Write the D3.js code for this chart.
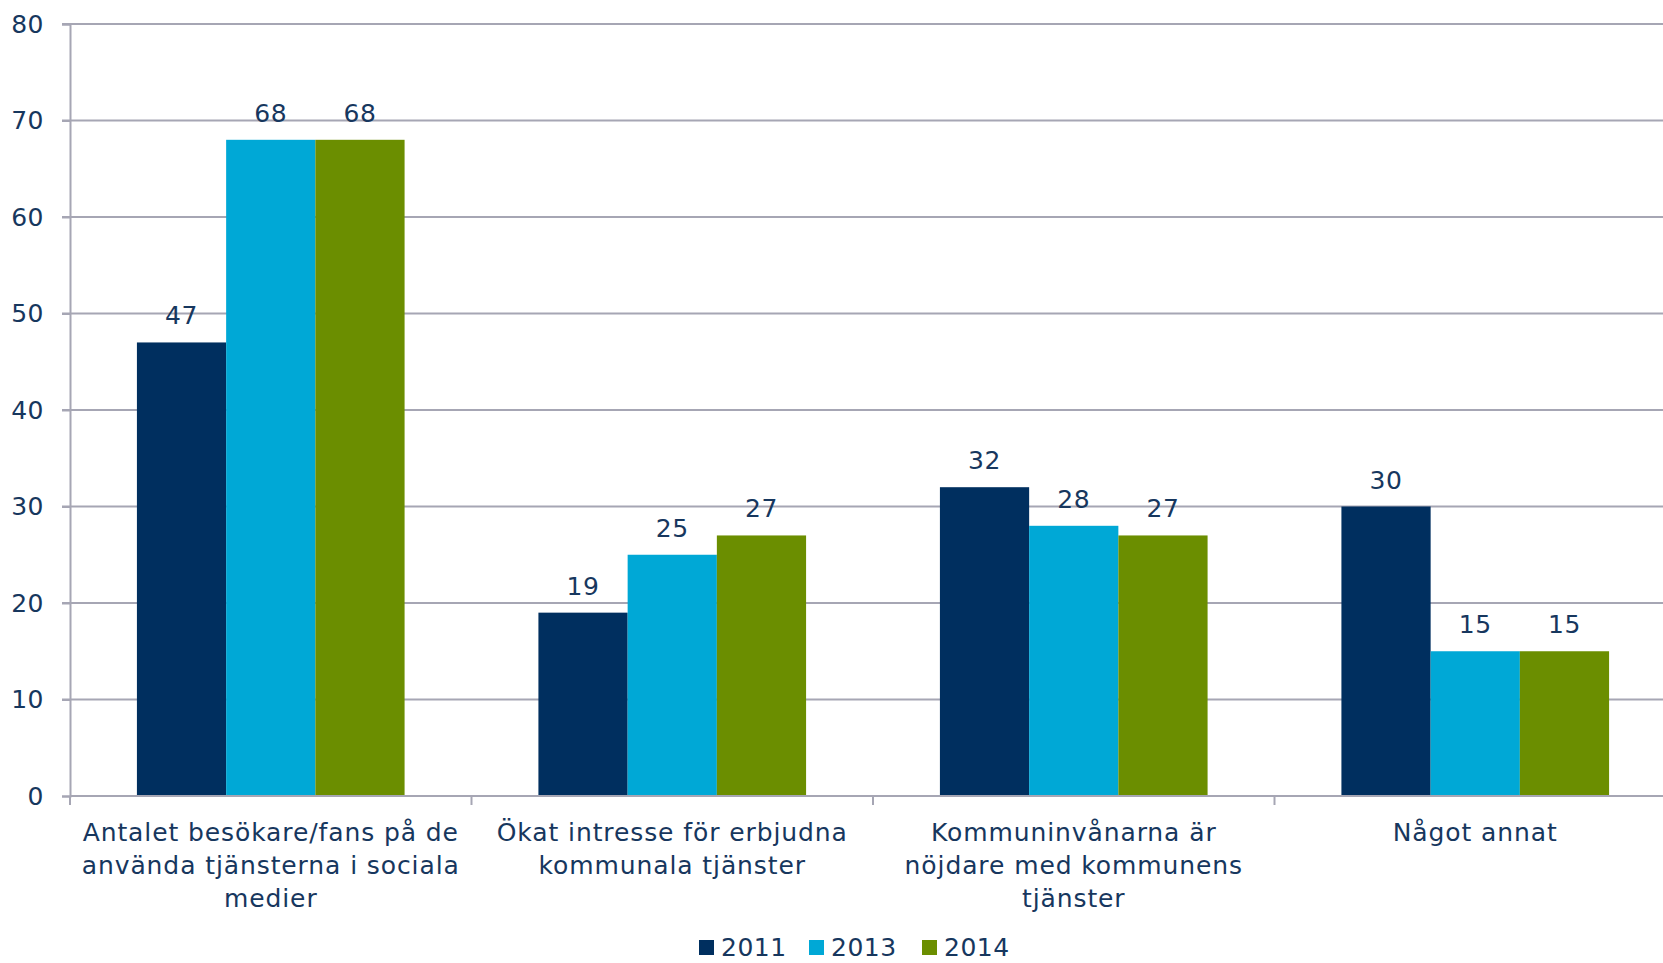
<!DOCTYPE html>
<html>
<head>
<meta charset="utf-8">
<script src="https://cdn.jsdelivr.net/npm/d3@7/dist/d3.min.js"></script>
<style>
  html, body { margin: 0; padding: 0; background: #fff; overflow: hidden; }
  svg { display: block; font-family: "DejaVu Sans", Verdana, sans-serif; }
</style>
</head>
<body>
<script>
// data
let categories = [
    ['Antalet besökare/fans på de', 'använda tjänsterna i sociala', 'medier'],
    ['Ökat intresse för erbjudna', 'kommunala tjänster'],
    ['Kommuninvånarna är', 'nöjdare med kommunens', 'tjänster'],
    ['Något annat']
];
let years = ['2011', '2013', '2014'];
let values2011 = [47, 19, 32, 30];
let values2013 = [68, 25, 28, 15];
let values2014 = [68, 27, 27, 15];
let yTicks = [0, 10, 20, 30, 40, 50, 60, 70, 80];
let colors = ['#002f5f', '#00a8d6', '#6b8e00'];

let width = 1663, height = 963;
let margin = { top: 24, left: 70, bottom: 796 };
let textColor = '#17375e';
let gridColor = '#a6a6b4';

let series = [values2011, values2013, values2014];

let svg = d3.select('body').append('svg')
    .attr('width', width)
    .attr('height', height);

// x: one band per category, plot runs past the right edge like the original
let x0 = d3.scaleBand()
    .domain(d3.range(categories.length))
    .range([margin.left, margin.left + 401.5 * categories.length])
    .padding(0);
let barW = x0.bandwidth() / 4.5;   // excel gap width 150%
let x1 = d3.scaleBand()
    .domain(years)
    .range([barW * 0.75, barW * 3.75]);

let y = d3.scaleLinear().domain([0, 80]).range([margin.bottom, margin.top]);

// gridlines
svg.append('g')
    .selectAll('line')
    .data(yTicks.slice(1))
    .enter()
    .append('line')
    .attr('x1', margin.left - 8)
    .attr('x2', width)
    .attr('y1', d => y(d))
    .attr('y2', d => y(d))
    .attr('stroke', gridColor)
    .attr('stroke-width', 2);

// y axis
let yAxis = d3.axisLeft(y).tickValues(yTicks).tickSize(8).tickPadding(18);
let yAxisGroup = svg.append('g')
    .attr('transform', `translate(${margin.left}, 0)`)
    .call(yAxis);
yAxisGroup.select('.domain').attr('stroke', gridColor).attr('stroke-width', 2);
yAxisGroup.selectAll('.tick line').attr('stroke', gridColor).attr('stroke-width', 2);
yAxisGroup.selectAll('.tick text')
    .attr('fill', textColor)
    .style('font-size', '25px')
    .style('letter-spacing', '0.5px')
    .style('font-family', '"DejaVu Sans", Verdana, sans-serif');

// bars
let groups = svg.append('g')
    .selectAll('g')
    .data(categories.map((c, i) => i))
    .enter()
    .append('g')
    .attr('transform', i => `translate(${x0(i)}, 0)`);

groups.selectAll('rect')
    .data(i => years.map((yr, s) => ({ yr: yr, s: s, v: series[s][i] })))
    .enter()
    .append('rect')
    .attr('x', d => x1(d.yr))
    .attr('width', x1.bandwidth())
    .attr('y', d => y(d.v))
    .attr('height', d => y(0) - y(d.v))
    .attr('fill', d => colors[d.s]);

groups.selectAll('text')
    .data(i => years.map((yr, s) => ({ yr: yr, s: s, v: series[s][i] })))
    .enter()
    .append('text')
    .attr('x', d => x1(d.yr) + x1.bandwidth() / 2)
    .attr('y', d => y(d.v) - 18)
    .attr('text-anchor', 'middle')
    .attr('fill', textColor)
    .style('font-size', '25px')
    .style('letter-spacing', '0.5px')
    .text(d => d.v);

// x axis line and category boundary ticks
let xAxisGroup = svg.append('g');
xAxisGroup.append('line')
    .attr('x1', margin.left)
    .attr('x2', width)
    .attr('y1', y(0))
    .attr('y2', y(0))
    .attr('stroke', gridColor)
    .attr('stroke-width', 2);
xAxisGroup.selectAll('.bound')
    .data(d3.range(categories.length + 1))
    .enter()
    .append('line')
    .attr('class', 'bound')
    .attr('x1', i => margin.left + x0.step() * i)
    .attr('x2', i => margin.left + x0.step() * i)
    .attr('y1', y(0))
    .attr('y2', y(0) + 9)
    .attr('stroke', gridColor)
    .attr('stroke-width', 2);

// category labels
let labels = xAxisGroup.selectAll('.cat')
    .data(categories)
    .enter()
    .append('text')
    .attr('class', 'cat')
    .attr('text-anchor', 'middle')
    .attr('fill', textColor)
    .style('font-size', '25px')
    .style('letter-spacing', '0.9px')
    .attr('transform', (d, i) => `translate(${x0(i) + x0.bandwidth() / 2}, 841)`);
labels.selectAll('tspan')
    .data(d => d)
    .enter()
    .append('tspan')
    .attr('x', 0)
    .attr('y', (d, i) => i * 33)
    .text(d => d);

// legend
let legendX = [699, 809, 922];
let legend = svg.append('g')
    .selectAll('g')
    .data(years)
    .enter()
    .append('g')
    .attr('transform', (d, i) => `translate(${legendX[i]}, 940)`);
legend.append('rect')
    .attr('width', 15)
    .attr('height', 15)
    .attr('fill', (d, i) => colors[i]);
legend.append('text')
    .attr('x', 22)
    .attr('y', 16)
    .attr('fill', textColor)
    .style('font-size', '25px')
    .style('letter-spacing', '0.5px')
    .text(d => d);
</script>
</body>
</html>
